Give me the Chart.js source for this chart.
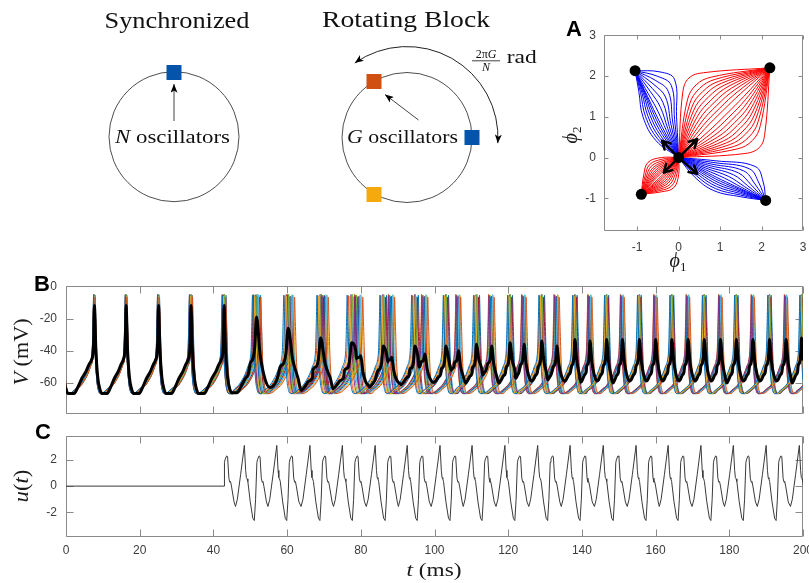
<!DOCTYPE html>
<html lang="en">
<head>
<meta charset="utf-8">
<title>Rotating block control</title>
<script src="https://cdn.jsdelivr.net/npm/chart.js@4.4.1/dist/chart.umd.min.js"></script>
<style>
  html, body { margin:0; padding:0; background:#fff; overflow:hidden; }
  #page { position:relative; width:809px; height:583px; overflow:hidden; }
  #page canvas, #page svg { position:absolute; }
</style>
</head>
<body>
<div id="page">
  <canvas id="cA" width="270" height="240" style="left:560px;top:20px"></canvas>
  <canvas id="cB" width="830" height="160" style="left:0;top:270px"></canvas>
  <canvas id="cC" width="830" height="160" style="left:0;top:420px"></canvas>

  <svg width="809" height="583" style="left:0;top:0">
    <defs>
      <marker id="hd" viewBox="0 0 10 8" refX="10" refY="4" markerWidth="9" markerHeight="7"
              markerUnits="userSpaceOnUse" orient="auto-start-reverse">
        <path d="M0,0 L10,4 L0,8 L2.5,4 Z" fill="#000"/>
      </marker>
    </defs>

    <!-- schematics -->
    <g font-family="'Liberation Serif','DejaVu Serif',serif" fill="#111">
      <text x="177" y="28" font-size="24" text-anchor="middle" textLength="145" lengthAdjust="spacingAndGlyphs">Synchronized</text>
      <circle cx="174" cy="136.7" r="65" fill="none" stroke="#3a3a3a" stroke-width="0.9"/>
      <line x1="174" y1="121" x2="174" y2="84" stroke="#444" stroke-width="1" marker-end="url(#hd)"/>
      <rect x="166.5" y="65" width="15" height="15" fill="#0554ac"/>
      <text x="172.5" y="143" font-size="19" text-anchor="middle" textLength="115" lengthAdjust="spacingAndGlyphs"><tspan font-style="italic">N</tspan> oscillators</text>

      <text x="406" y="27" font-size="24" text-anchor="middle" textLength="168" lengthAdjust="spacingAndGlyphs">Rotating Block</text>
      <circle cx="407" cy="137.5" r="65" fill="none" stroke="#3a3a3a" stroke-width="0.9"/>
      <path d="M 497.8 143.2 A 91 91 0 0 0 354.8 63.0" fill="none" stroke="#222" stroke-width="1"
            marker-start="url(#hd)" marker-end="url(#hd)"/>
      <line x1="418.5" y1="120" x2="385" y2="94.5" stroke="#444" stroke-width="1" marker-end="url(#hd)"/>
      <rect x="366.5" y="74" width="15" height="15" fill="#d24f12"/>
      <rect x="464.5" y="130" width="15" height="15" fill="#0554ac"/>
      <rect x="366.5" y="187" width="15" height="15" fill="#f6a90c"/>
      <text x="402.5" y="143" font-size="19" text-anchor="middle" textLength="111" lengthAdjust="spacingAndGlyphs"><tspan font-style="italic">G</tspan> oscillators</text>
      <text x="486" y="58" font-size="12" text-anchor="middle">2π<tspan font-style="italic">G</tspan></text>
      <line x1="472" y1="60.8" x2="500" y2="60.8" stroke="#111" stroke-width="0.8"/>
      <text x="486" y="70.5" font-size="12" text-anchor="middle" font-style="italic">N</text>
      <text x="521.7" y="63" font-size="18" text-anchor="middle" textLength="30" lengthAdjust="spacingAndGlyphs">rad</text>
    </g>

    <!-- axis titles -->
    <g font-family="'Liberation Serif','DejaVu Serif',serif" fill="#1a1a1a" font-size="20">
      <text x="678" y="267" text-anchor="middle"><tspan font-style="italic">ϕ</tspan><tspan font-size="13" dy="4">1</tspan></text>
      <text transform="translate(577,135) rotate(-90)" text-anchor="middle"><tspan font-style="italic">ϕ</tspan><tspan font-size="13" dy="4">2</tspan></text>
      <text transform="translate(28,352) rotate(-90)" text-anchor="middle" textLength="67" lengthAdjust="spacingAndGlyphs"><tspan font-style="italic">V</tspan> (mV)</text>
      <text transform="translate(28,486) rotate(-90)" text-anchor="middle" textLength="33" lengthAdjust="spacingAndGlyphs"><tspan font-style="italic">u</tspan>(<tspan font-style="italic">t</tspan>)</text>
      <text x="434" y="576" text-anchor="middle" font-size="19" textLength="55" lengthAdjust="spacingAndGlyphs"><tspan font-style="italic">t</tspan> (ms)</text>
    </g>

    <!-- panel letters -->
    <g font-family="'Liberation Sans',Arial,sans-serif" font-weight="bold" font-size="22" fill="#000">
      <text x="566" y="36">A</text>
      <text x="34" y="291">B</text>
      <text x="35" y="439">C</text>
    </g>
  </svg>
</div>

<script>
const $ = s => document.querySelector(s);

const AXIS_COLOR = '#8a8a8a';
const TICK_FONT = { family: "'Liberation Sans', Arial, sans-serif", size: 12 };
const TICK_COLOR = '#3c3c3c';
const MATLAB = ['#0072BD', '#D95319', '#EDB120', '#7E2F8E', '#77AC30', '#4DBEEE', '#A2142F'];

// ---------- A: phase plane ----------
const aTicks = [-1, 0, 1, 2, 3];
const aRange = [-1.8, 3];
const aNodes = [[0, 0], [-1.05, 2.13], [2.2, 2.2], [-0.9, -0.9], [2.1, -1.05]];
const aArrows = [[0.45, 0.45], [-0.4, 0.41], [-0.36, -0.37], [0.45, -0.4]];

// trajectory fans leaving the origin
const fanEnds = [[2.2, 2.2], [-0.9, -0.9], [-1.05, 2.13], [2.1, -1.05]];
const fanColors = ['#ff0000', '#ff0000', '#0000ff', '#0000ff'];
// outermost curve on each side: [near start, middle, near end]
const fanOuter = [
  [[[0.1, 1.6], [0.25, 1.95], [0.6, 2.08]], [[1.6, 0.1], [1.95, 0.25], [2.08, 0.6]]],
  [[[-0.42, 0.0], [-0.74, -0.12], [-0.84, -0.42]], [[0.0, -0.42], [-0.12, -0.74], [-0.42, -0.84]]],
  [[[-0.05, 1.0], [-0.1, 1.92], [-0.45, 2.1]], [[-0.55, 0.42], [-0.86, 1.0], [-0.96, 1.62]]],
  [[[0.9, -0.08], [1.85, -0.22], [2.04, -0.6]], [[0.38, -0.47], [0.85, -0.81], [1.5, -0.96]]]
];
// how far each curve bends toward the outermost one
const fanWeights = [
  [1, 0.8, 0.7, 0.61, 0.53, 0.45, 0.37, 0.29, 0.21, 0.13, 0.05],
  [1, 0.85, 0.72, 0.6, 0.5, 0.4, 0.31, 0.22, 0.14, 0.06],
  [1, 0.82, 0.65, 0.49, 0.34, 0.2, 0.07],
  [1, 0.82, 0.65, 0.49, 0.34, 0.2, 0.07]
];

// ---------- B: membrane potentials ----------
const tTicks = [0, 20, 40, 60, 80, 100, 120, 140, 160, 180, 200];
const vTicks = [-60, -40, -20, 0];
const vRange = [-79, 0];

// spike times of the two groups (first entry is the spike just before t = 0)
const spikesA = [-1.1, 7.7, 16.3, 25.1, 33.9, 42.9, 51.7, 60.3, 69.1, 77.5, 86.1, 94.7, 103.1, 111.4, 120.5, 129.1, 138.1, 146.7, 155.6, 164.4, 173.2, 181.9, 190.9, 199.6];
const spikesB = [-1.1, 7.7, 16.3, 25.1, 33.9, 42.9, 51.9, 61.0, 70.3, 79.5, 88.4, 97.4, 106.5, 115.5, 124.3, 133.2, 142.2, 151.0, 160.0, 168.8, 177.6, 186.4, 195.4, 204.2];
// width (ms) of each volley inside a group
const spikeSpread = [0.3, 0.4, 0.4, 0.5, 0.8, 1.0, 2.2, 2.4, 2.0, 2.4, 1.8, 1.8, 1.4, 1.6, 1.3, 1.5, 1.2, 1.1, 1.0, 1.0, 1.0, 0.9, 0.9, 0.9];
const jitterA = [-0.5, -0.21, 0.07, 0.36, -0.36, -0.07, 0.21, 0.5];
const jitterB = [0.43, -0.43, 0.14, -0.14, 0.29, -0.29, 0.0, -0.5];
const tracePeak = [-5.5, -6.2, -5.0, -6.8, -5.8, -5.2, -6.5, -5.6];
// action potential shape: after the peak / before the next peak
const spikeFallT = [0.2, 0.5, 0.85, 1.3, 1.9, 2.6];
const spikeFallV = [-22, -45, -58, -64.5, -66.5, -66.3];
const spikeRiseT = [-5.8, -4.8, -3.8, -2.8, -2.0, -1.2, -0.65, -0.35, -0.15];
const spikeRiseV = [-65.5, -63.5, -61.5, -58, -54.5, -49.5, -45.5, -38, -20];

// population mean: peaks, their widths and the minimum after each peak
const meanPeakT = [-1.5, 7.7, 16.3, 25.1, 33.9, 42.9, 51.7, 60.3, 69.1, 77.5, 80.0, 86.1, 88.4, 94.7, 97.4, 103.1, 106.5, 111.4, 115.5, 120.5, 124.3, 129.1, 133.2, 138.1, 142.2, 146.7, 151.0, 155.6, 160.0, 164.4, 168.8, 173.2, 177.6, 181.9, 186.4, 190.9, 195.4, 199.6, 204.0];
const meanPeakV = [-12, -12, -12, -12, -12, -12, -19, -26, -32, -35, -43, -37, -44, -37, -42, -37, -40, -36, -37, -35, -36, -34, -37, -33, -34, -33, -33, -33, -33, -33, -33, -33, -33, -33, -33, -33, -33, -32, -33];
const meanPeakW = [1, 1, 1, 1, 1, 1, 2.4, 3.0, 3.0, 2.8, 1.4, 2.2, 1.4, 2.0, 1.5, 1.8, 1.5, 1.6, 1.5, 1.5, 1.4, 1.4, 1.4, 1.3, 1.3, 1.3, 1.3, 1.3, 1.3, 1.3, 1.3, 1.3, 1.3, 1.3, 1.3, 1.3, 1.3, 1.3, 1.3];
const meanTroughV = [-66.5, -66.5, -66.5, -66.5, -66.5, -66, -65, -64.5, -63.5, -45, -62.5, -47, -61, -50, -60.5, -52, -60, -55, -60, -57, -60, -58, -60, -59.5, -60, -60, -60, -60, -60, -60, -60, -60, -60, -60, -60, -60, -60, -60];
// shape between two mean peaks
const meanFallT = [0.4, 0.9, 1.5, 2.1, 2.8];           // ms after peak, times width
const meanFallS = [0.5, 0.19, 0.05, 0, 0];
const meanRampF = [0.40, 0.52, 0.64, 0.75, 0.84];      // fraction of the interval
const meanRampS = [0, 0.08, 0.18, 0.25, 0.33];
const meanRiseT = [-0.7, -0.4, -0.2];                  // ms before next peak, times width
const meanRiseS = [0.39, 0.45, 0.6];

// ---------- C: control input ----------
const uTicks = [-2, 0, 2];
const uRange = [-3.85, 3.8];
const uStart = 43.0;
const uPeaks = [39.6, 48.4, 57.2, 66.2, 75.0, 83.9, 92.6, 101.5, 110.2, 119.1, 128.0, 136.8, 145.8, 154.7, 163.4, 172.3, 181.1, 190.0, 199.0];
const uCycleT = [-2.4, -1.9, -1.0, 0, 0.35, 0.55, 0.75, 0.95, 1.6, 2.3, 2.7, 3.05, 3.4, 3.6, 4.0, 4.25, 4.6, 4.85, 5.05, 5.3, 6.0];
const uCycleV = [-1.55, -1.0, 0.9, 3.1, 1.2, 0.65, 0.55, 0.35, -1.2, -2.45, -2.62, -1.0, 1.8, 2.05, 2.3, 2.25, 0.6, 0.3, 0.35, 0.0, -1.2];

// ---------- builders ----------
const lerp = (a, b, f) => [a[0] + (b[0] - a[0]) * f, a[1] + (b[1] - a[1]) * f];

function fanCurve(E, side, w) {
  const [K, X, Ke] = side;
  const p1 = lerp([E[0] * 0.3, E[1] * 0.3], K, w);
  const p2 = lerp([E[0] * 0.5, E[1] * 0.5], X, w);
  const p3 = lerp([E[0] * 0.7, E[1] * 0.7], Ke, w);
  return [[0, 0], p1, p2, p3, E].map(([x, y]) => ({ x, y }));
}

function neuronTrace(times, jit, peak) {
  const pts = [];
  let last = -Infinity;
  times.forEach((t0, k) => {
    const s = t0 + jit * spikeSpread[k];
    if (k > 0) spikeRiseT.forEach((o, i) => {
      const x = s + o;
      if (x > last + 0.05) { pts.push({ x, y: spikeRiseV[i] }); last = x; }
    });
    pts.push({ x: s, y: peak }); last = s;
    spikeFallT.forEach((o, i) => { pts.push({ x: s + o, y: spikeFallV[i] }); last = s + o; });
  });
  return pts;
}

function meanTrace() {
  const pts = [];
  for (let k = 0; k < meanPeakT.length - 1; k++) {
    const t0 = meanPeakT[k], t1 = meanPeakT[k + 1], D = t1 - t0, tr = meanTroughV[k];
    const v0 = meanPeakV[k], v1 = meanPeakV[k + 1], w0 = meanPeakW[k], w1 = meanPeakW[k + 1];
    const riseStart = t1 + meanRiseT[0] * w1;
    pts.push({ x: t0, y: v0 });
    let last = t0;
    meanFallT.forEach((o, i) => {
      const x = t0 + o * w0;
      if (x < riseStart - 0.1 && o * w0 < 0.45 * D) { pts.push({ x, y: tr + meanFallS[i] * (v0 - tr) }); last = x; }
    });
    meanRampF.forEach((f, i) => {
      const x = t0 + f * D;
      if (x > last + 0.1 && x < riseStart - 0.1) { pts.push({ x, y: tr + meanRampS[i] * (v1 - tr) }); last = x; }
    });
    meanRiseT.forEach((o, i) => pts.push({ x: t1 + o * w1, y: tr + meanRiseS[i] * (v1 - tr) }));
  }
  pts.push({ x: meanPeakT[meanPeakT.length - 1], y: meanPeakV[meanPeakV.length - 1] });
  return pts;
}

function controlTrace() {
  const pts = [{ x: 0, y: 0 }, { x: uStart, y: 0 }];
  let last = uStart - 0.001;
  uPeaks.forEach(P => uCycleT.forEach((o, i) => {
    const x = P + o;
    if (x >= uStart - 1e-6 && x > last) { pts.push({ x, y: uCycleV[i] }); last = x; }
  }));
  return pts;
}

// MATLAB-style box with inward ticks on all four sides
function boxPlugin(tickLen) {
  return {
    id: 'box',
    beforeDatasetsDraw(chart) {
      const { ctx, chartArea: a, scales: { x, y } } = chart;
      const L = Math.round(a.left) + 0.5, R = Math.round(a.right) - 0.5;
      const T = Math.round(a.top) + 0.5, B = Math.round(a.bottom) - 0.5;
      ctx.save();
      ctx.strokeStyle = AXIS_COLOR;
      ctx.lineWidth = 1;
      ctx.beginPath();
      ctx.rect(L, T, R - L, B - T);
      x.ticks.forEach(t => {
        const p = Math.round(x.getPixelForValue(t.value)) + 0.5;
        ctx.moveTo(p, B); ctx.lineTo(p, B - tickLen);
        ctx.moveTo(p, T); ctx.lineTo(p, T + tickLen);
      });
      y.ticks.forEach(t => {
        const p = Math.round(y.getPixelForValue(t.value)) + 0.5;
        ctx.moveTo(L, p); ctx.lineTo(L + tickLen, p);
        ctx.moveTo(R, p); ctx.lineTo(R - tickLen, p);
      });
      ctx.stroke();
      ctx.restore();
    }
  };
}

function axis(range, ticks, opts) {
  return {
    type: 'linear', min: range[0], max: range[1],
    afterBuildTicks: s => { s.ticks = ticks.map(v => ({ value: v })); },
    afterFit: s => { if (opts.width != null) s.width = opts.width; if (opts.height != null) s.height = opts.height; },
    grid: { display: false, drawTicks: false },
    border: { display: false },
    ticks: {
      display: opts.labels !== false, padding: opts.pad || 8, color: TICK_COLOR, font: TICK_FONT,
      autoSkip: false, maxRotation: 0, callback: v => String(v)
    }
  };
}

const base = {
  responsive: false, animation: false, devicePixelRatio: 1,
  plugins: { legend: { display: false }, tooltip: { enabled: false } },
  elements: { point: { radius: 0 } }
};

// arrows at the unstable point, drawn just under the node markers
const quiverPlugin = {
  id: 'quiver',
  beforeDatasetDraw(chart, args) {
    if (args.index !== 0) return;
    const { ctx, scales: { x, y } } = chart;
    const ox = x.getPixelForValue(0), oy = y.getPixelForValue(0);
    ctx.save();
    ctx.strokeStyle = '#000'; ctx.lineWidth = 2.5; ctx.lineCap = 'round'; ctx.lineJoin = 'round';
    aArrows.forEach(([ax, ay]) => {
      const tx = x.getPixelForValue(ax), ty = y.getPixelForValue(ay);
      const ang = Math.atan2(ty - oy, tx - ox);
      ctx.beginPath();
      ctx.moveTo(ox, oy); ctx.lineTo(tx, ty);
      [-1, 1].forEach(s => {
        ctx.moveTo(tx, ty);
        ctx.lineTo(tx - 9 * Math.cos(ang + s * 0.5), ty - 9 * Math.sin(ang + s * 0.5));
      });
      ctx.stroke();
    });
    ctx.restore();
  }
};

function initA() {
  const datasets = [{
    data: aNodes.map(([x, y]) => ({ x, y })), order: 0,
    pointRadius: 5.5, pointBackgroundColor: '#000', pointBorderWidth: 0, showLine: false
  }];
  fanEnds.forEach((E, f) => fanOuter[f].forEach(side => fanWeights[f].forEach(w => {
    datasets.push({
      data: fanCurve(E, side, w), showLine: true, borderColor: fanColors[f], borderWidth: 1,
      tension: 0.4, pointRadius: 0, order: fanColors[f] === '#ff0000' ? 2 : 3
    });
  })));
  new Chart($('#cA'), {
    type: 'scatter',
    data: { datasets },
    options: {
      ...base,
      layout: { padding: { left: 0, top: 13, right: 27, bottom: 0 } },
      scales: {
        x: axis(aRange, aTicks, { height: 29, pad: 9 }),
        y: axis(aRange, aTicks, { width: 44, pad: 8 })
      }
    },
    plugins: [boxPlugin(4), quiverPlugin]
  });
}

function initB() {
  const datasets = [{ data: meanTrace(), borderColor: '#000', borderWidth: 3, order: 0, cubicInterpolationMode: 'monotone' }];
  for (let i = 0; i < jitterA.length; i++) {
    datasets.push({ data: neuronTrace(spikesA, jitterA[i], tracePeak[i]) });
    datasets.push({ data: neuronTrace(spikesB, jitterB[i], tracePeak[(i + 3) % tracePeak.length]) });
  }
  datasets.slice(1).forEach((d, i) => Object.assign(d, {
    borderColor: MATLAB[i % MATLAB.length], borderWidth: 1, order: 1, cubicInterpolationMode: 'monotone'
  }));
  new Chart($('#cB'), {
    type: 'line',
    data: { datasets },
    options: {
      ...base,
      layout: { padding: { left: 0, top: 14, right: 27, bottom: 0 } },
      scales: {
        x: axis([0, 200], tTicks, { height: 8, labels: false }),
        y: axis(vRange, vTicks, { width: 66, pad: 9 })
      }
    },
    plugins: [boxPlugin(7)]
  });
}

function initC() {
  new Chart($('#cC'), {
    type: 'line',
    data: { datasets: [{ data: controlTrace(), borderColor: '#3a3a3a', borderWidth: 1, tension: 0 }] },
    options: {
      ...base,
      layout: { padding: { left: 0, top: 13.3, right: 27, bottom: 0 } },
      scales: {
        x: axis([0, 200], tTicks, { height: 43.3, pad: 7 }),
        y: axis(uRange, uTicks, { width: 66, pad: 9 })
      }
    },
    plugins: [boxPlugin(7)]
  });
}

initA();
initB();
initC();
</script>
</body>
</html>
